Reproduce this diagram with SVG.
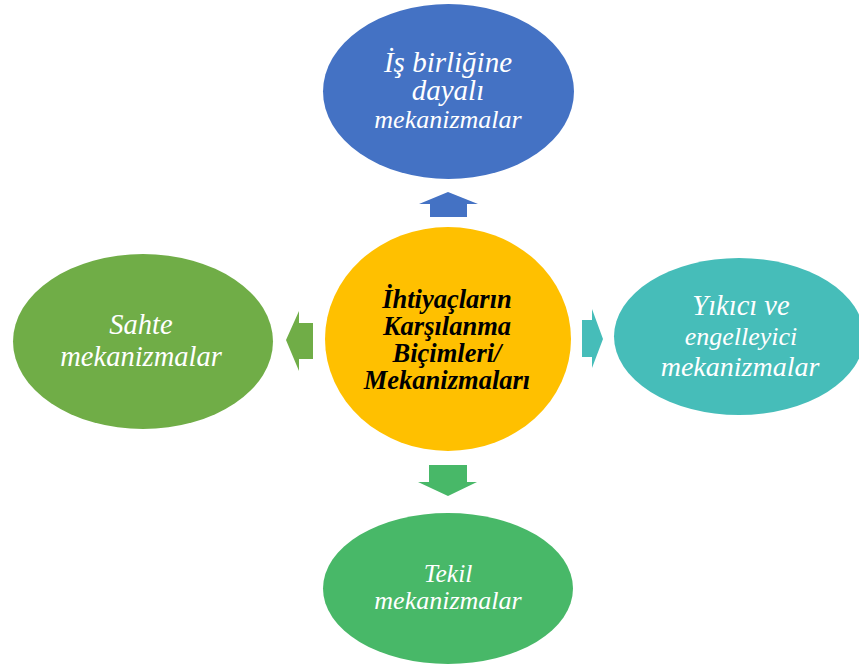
<svg xmlns="http://www.w3.org/2000/svg" width="859" height="664" viewBox="0 0 859 664">
<style>
.t{fill:#fff;text-anchor:middle}
.c{fill:#000;text-anchor:middle}
</style>
<rect width="859" height="664" fill="#fff"/>
<g id="connectors">
<polygon points="448,192 478,204 467,204 467,217 430,217 430,204 419,204" fill="#4472C4"/>
<polygon points="286,340 299,311 299,323 313,323 313,359 299,359 299,371" fill="#70AD47"/>
<polygon points="603,339 592,309 592,320 582,320 582,357 592,357 592,368" fill="#46BDB9"/>
<polygon points="448,496 477,482 467,482 467,465 429,465 429,482 418,482" fill="#48B868"/>
</g>
<g id="center" font-family="Liberation Serif" font-style="italic" font-weight="bold" font-size="26.5">
<ellipse cx="448" cy="339" rx="123" ry="112" fill="#FFC000"/>
<text class="c" x="447" y="308">İhtiyaçların</text>
<text class="c" x="447" y="335">Karşılanma</text>
<text class="c" x="447" y="362">Biçimleri/</text>
<text class="c" x="447" y="389">Mekanizmaları</text>
</g>
<g id="top" font-family="Liberation Serif" font-style="italic">
<ellipse cx="448.5" cy="91.5" rx="125.5" ry="87.5" fill="#4472C4"/>
<text class="t" x="448" y="72" font-size="29">İş birliğine</text>
<text class="t" x="448" y="100" font-size="29">dayalı</text>
<text class="t" x="448" y="128" font-size="26">mekanizmalar</text>
</g>
<g id="left" font-family="Liberation Serif" font-style="italic">
<ellipse cx="143" cy="341.5" rx="130" ry="87.5" fill="#70AD47"/>
<text class="t" x="141" y="334" font-size="28.5">Sahte</text>
<text class="t" x="141" y="366" font-size="28.5">mekanizmalar</text>
</g>
<g id="right" font-family="Liberation Serif" font-style="italic">
<ellipse cx="739" cy="336.5" rx="125" ry="78.5" fill="#46BDB9"/>
<text class="t" x="741" y="315" font-size="28.5">Yıkıcı ve</text>
<text class="t" x="741" y="345" font-size="26">engelleyici</text>
<text class="t" x="740" y="376" font-size="28">mekanizmalar</text>
</g>
<g id="bottom" font-family="Liberation Serif" font-style="italic">
<ellipse cx="448" cy="588.5" rx="125" ry="75.5" fill="#48B868"/>
<text class="t" x="448" y="582" font-size="25.5">Tekil</text>
<text class="t" x="448" y="609" font-size="26">mekanizmalar</text>
</g>
</svg>
